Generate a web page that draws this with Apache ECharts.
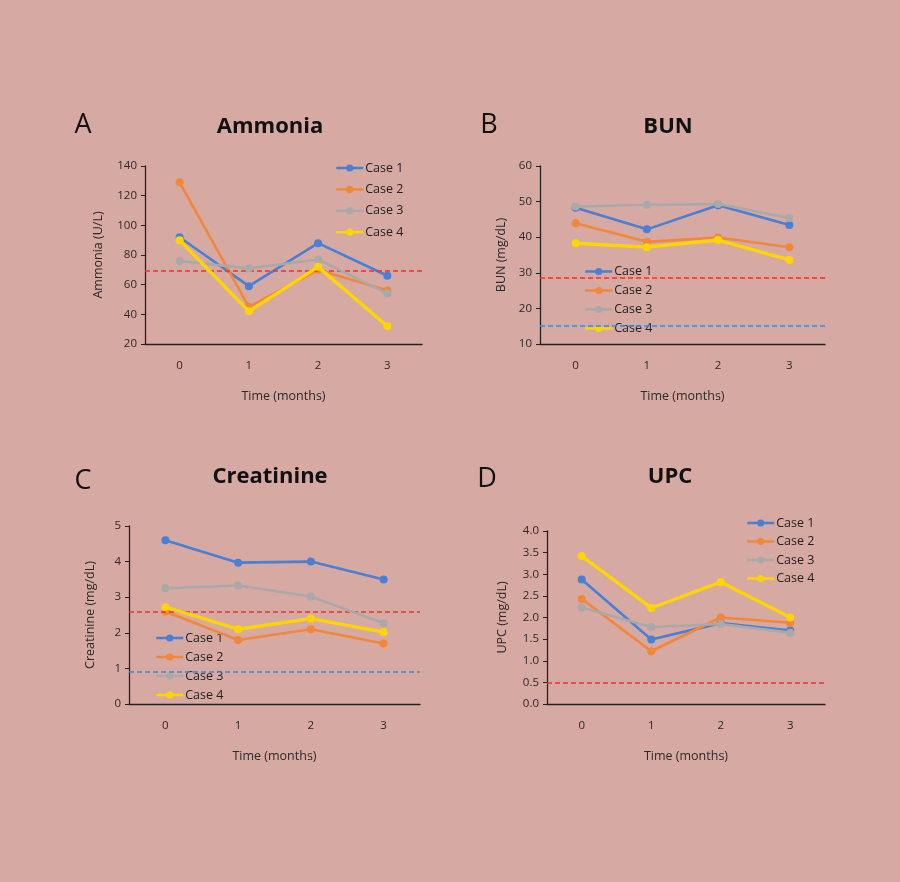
<!DOCTYPE html>
<html><head><meta charset="utf-8">
<script src="https://cdn.jsdelivr.net/npm/echarts@6/dist/echarts.min.js"></script>
<style>html,body{margin:0;padding:0;background:#D6A9A2;}#c{width:900px;height:882px;}</style>
</head><body><div id="c"></div>
<script>
const months = ['0','1','2','3'];
const caseNames = ['Case 1','Case 2','Case 3','Case 4'];
const caseColors = ['#4A7FD6','#F2873A','#A9A9A9','#FFD500'];

const ammonia = [
  [92, 59, 88, 66],
  [129, 45, 70, 56],
  [76, 71, 77, 54],
  [90, 42, 72, 32]
];
const bun = [
  [48.3, 42.2, 49, 43.4],
  [43.9, 38.7, 39.9, 37.2],
  [48.6, 49.1, 49.3, 45.4],
  [38.3, 37.2, 39.2, 33.6]
];
const creatinine = [
  [4.6, 3.97, 4.0, 3.5],
  [2.6, 1.8, 2.1, 1.7],
  [3.25, 3.33, 3.02, 2.27],
  [2.72, 2.1, 2.4, 2.02]
];
const upc = [
  [2.88, 1.49, 1.87, 1.70],
  [2.43, 1.22, 2.0, 1.88],
  [2.23, 1.78, 1.85, 1.65],
  [3.42, 2.22, 2.82, 2.0]
];

const panelTitles = ['Ammonia','BUN','Creatinine','UPC'];
const panelLetters = ['A','B','C','D'];
const yNames = ['Ammonia (U/L)','BUN (mg/dL)','Creatinine (mg/dL)','UPC (mg/dL)'];
const yMin = [20, 10, 0, 0];
const yMax = [140, 60, 5, 4];
const yStep = [20, 10, 1, 0.5];
const refRed = [69.5, 28.7, 2.6, 0.5];
const refBlue = [null, 15, 0.9, null];

const panelData = [ammonia, bun, creatinine, upc];

const grids = [
  {left:145, top:166, width:277, height:178},
  {left:540, top:166, width:285, height:178},
  {left:129, top:526, width:291, height:178},
  {left:547, top:531, width:278, height:173}
];
const legendPos = [
  {left:330, top:156.5, itemGap:8.4},
  {left:579, top:260, itemGap:6},
  {left:150, top:626.5, itemGap:6},
  {left:741, top:511.5, itemGap:5.5}
];
const titlePos = [
  {x:270, y:127}, {x:668, y:127}, {x:270, y:477}, {x:670, y:477}
];
const letterPos = [
  {x:83, y:125}, {x:489, y:125}, {x:83, y:481}, {x:487, y:479}
];

const font = 'Open Sans';
const xAxes = [], yAxes = [], series = [], legends = [];
for (let p = 0; p < 4; p++) {
  xAxes.push({
    gridIndex:p, type:'category', data:months, boundaryGap:true,
    name:'Time (months)', nameLocation:'middle', nameGap:46,
    nameTextStyle:{fontFamily:font, fontSize:12.5, color:'#2a2a2a'},
    axisLine:{lineStyle:{color:'#222', width:1.3}},
    axisTick:{alignWithLabel:true, length:4, lineStyle:{color:'#222'}},
    axisLabel:{fontFamily:font, fontSize:11.5, color:'#2a2a2a', margin:16},
    splitLine:{show:false}
  });
  yAxes.push({
    gridIndex:p, type:'value', min:yMin[p], max:yMax[p], interval:yStep[p],
    name:yNames[p], nameLocation:'middle', nameGap:p===0?40:(p===3?38:32),
    nameTextStyle:{fontFamily:font, fontSize:12.5, color:'#2a2a2a'},
    axisLine:{show:true, lineStyle:{color:'#222', width:1.3}},
    axisTick:{show:true, length:4, lineStyle:{color:'#222'}},
    axisLabel:{fontFamily:font, fontSize:11.5, color:'#2a2a2a', margin:8,
      formatter: p===3 ? (v => v.toFixed(1)) : null},
    splitLine:{show:false}
  });
  for (let s = 0; s < 4; s++) {
    const ser = {
      name:caseNames[s], type:'line', xAxisIndex:p, yAxisIndex:p,
      data:panelData[p][s], symbol:'circle', symbolSize:8,
      lineStyle:{width:s===3?3.4:2.6, color:caseColors[s]},
      itemStyle:{color:caseColors[s]}, z:3+s, animation:false
    };
    if (s === 0) {
      const md = [{yAxis:refRed[p], lineStyle:{color:'#FF2A2A'}}];
      if (refBlue[p] !== null) md.push({yAxis:refBlue[p], lineStyle:{color:'#2F8FE0'}});
      ser.markLine = {silent:true, symbol:['none','none'], label:{show:false},
        lineStyle:{type:[5,3], width:1.5}, data:md, animation:false};
    }
    series.push(ser);
  }
  legends.push({
    orient:'vertical', left:legendPos[p].left, top:legendPos[p].top,
    itemGap:legendPos[p].itemGap, itemWidth:27, itemHeight:9,
    data:caseNames, selectedMode:false,
    lineStyle:{width:2.5},
    textStyle:{fontFamily:font, fontSize:12.5, color:'#222', padding:[0,0,0,-3]}
  });
}

const gfx = [];
for (let p = 0; p < 4; p++) {
  gfx.push({type:'text', x:titlePos[p].x, y:titlePos[p].y,
    style:{text:panelTitles[p], fontFamily:font, fontWeight:'bold', fontSize:22, fill:'#111',
      textAlign:'center', textVerticalAlign:'middle'}});
  gfx.push({type:'text', x:letterPos[p].x, y:letterPos[p].y,
    style:{text:panelLetters[p], fontFamily:font, fontSize:27, fill:'#111',
      textAlign:'center', textVerticalAlign:'middle'}});
}

const chart = echarts.init(document.getElementById('c'));
chart.setOption({
  backgroundColor:'#D6A9A2',
  animation:false,
  grid:grids,
  xAxis:xAxes, yAxis:yAxes, series:series, legend:legends,
  graphic:gfx
});
</script></body></html>
